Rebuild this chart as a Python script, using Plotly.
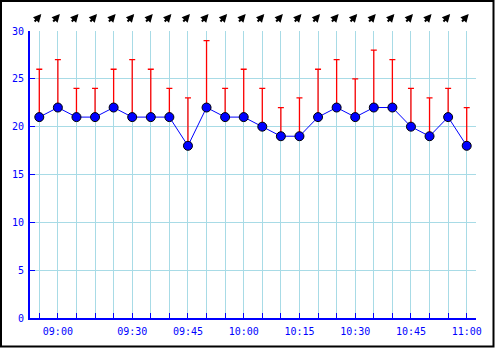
import plotly.graph_objects as go

times = ["08:55", "09:00", "09:05", "09:10", "09:20", "09:30", "09:35", "09:40",
         "09:45", "09:50", "09:55", "10:00", "10:05", "10:10", "10:15", "10:20",
         "10:25", "10:30", "10:35", "10:40", "10:45", "10:50", "10:55", "11:00"]
avg_wind = [21, 22, 21, 21, 22, 21, 21, 21, 18, 22, 21, 21,
            20, 19, 19, 21, 22, 21, 22, 22, 20, 19, 21, 18]
gust_wind = [26, 27, 24, 24, 26, 27, 26, 24, 23, 29, 24, 26,
             24, 22, 23, 26, 27, 25, 28, 27, 24, 23, 24, 22]
wind_dir = ["SW"] * len(times)
y_ticks = [0, 5, 10, 15, 20, 25, 30]

tick_text = [t if t[-2:] in ("00", "15", "30", "45") else "" for t in times]
err_up = [g - a for g, a in zip(gust_wind, avg_wind)]

BLUE = "#0000ff"
GRID = "#a8dbe6"
font = dict(family="DejaVu Sans Mono", size=10, color=BLUE)

fig = go.Figure()
fig.add_trace(go.Scatter(
    x=times, y=avg_wind, mode="lines+markers",
    line=dict(color=BLUE, width=1),
    marker=dict(size=9, color=BLUE, line=dict(color="black", width=1)),
    error_y=dict(type="data", symmetric=False, array=err_up,
                 arrayminus=[0] * len(times), color="#ff0000", thickness=1.3, width=3),
    showlegend=False, cliponaxis=False,
))

# wind-direction arrows above the plot (blowing from SW -> pointing NE)
annotations = []
for t, d in zip(times, wind_dir):
    annotations.append(dict(
        x=t, y=(318 - 14) / 287, xref="x", yref="paper", text="", showarrow=True,
        ax=-8, ay=9, axref="pixel", ayref="pixel",
        arrowhead=2, arrowsize=0.8, arrowwidth=2, arrowcolor="black",
        standoff=0, startstandoff=0, xshift=2,
    ))

fig.update_layout(
    width=495, height=348,
    margin=dict(l=30, r=19, t=31, b=30, autoexpand=False),
    paper_bgcolor="white", plot_bgcolor="white",
    font=font,
    annotations=annotations,
    xaxis=dict(type="category", range=[-0.5, len(times) - 0.5], automargin=False,
               tickmode="array", tickvals=times, ticktext=tick_text,
               showgrid=True, gridcolor=GRID, gridwidth=1,
               showline=True, linecolor=BLUE, linewidth=2,
               ticks="inside", ticklen=5, tickcolor=BLUE, tickwidth=1,
               tickfont=font, zeroline=False, fixedrange=True,
               ticklabelstandoff=3),
    yaxis=dict(range=[0, 30], tickvals=y_ticks, automargin=False,
               showgrid=True, gridcolor=GRID, gridwidth=1,
               showline=True, linecolor=BLUE, linewidth=2,
               ticks="inside", ticklen=5, tickcolor=BLUE, tickwidth=1,
               tickfont=font, zeroline=False, fixedrange=True,
               ticklabelstandoff=2),
    shapes=[dict(type="rect", xref="paper", yref="paper",
                 x0=(1 - 30) / 446, x1=(493.5 - 30) / 446,
                 y0=(318 - 346.5) / 287, y1=(318 - 1) / 287,
                 line=dict(color="black", width=2), layer="above")],
)

fig.write_html("out.html")
